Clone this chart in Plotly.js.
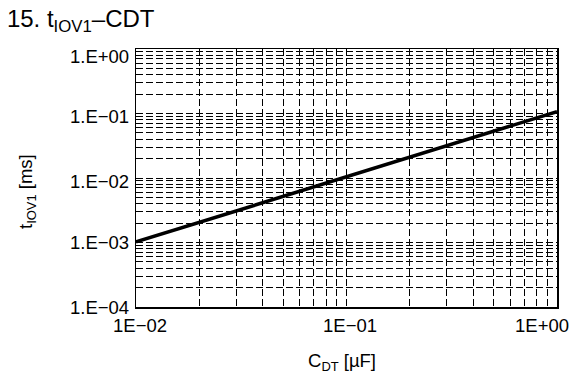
<!DOCTYPE html>
<html>
<head>
<meta charset="utf-8">
<script src="https://cdn.plot.ly/plotly-3.0.1.min.js"></script>
<style>html,body{margin:0;padding:0;background:#fff;}#chart{width:576px;height:379px;}</style>
</head>
<body>
<div id="chart"></div>
<script>
const cdt = [0.01, 0.1, 1];
const tiov1 = [0.00102, 0.0104, 0.107];
const xTickVals = [0.01, 0.1, 1];
const xTickText = ["1E\u221202", "1E\u221201", "1E+00"];
const yTickVals = [0.0001, 0.001, 0.01, 0.1, 1];
const yTickText = ["1.E\u221204", "1.E\u221203", "1.E\u221202", "1.E\u221201", "1.E+00"];

const FAM = "Liberation Sans, Arial, sans-serif";
const TICK = 18.5;
const grid = {showgrid: true, gridcolor: "#000", gridwidth: 1, griddash: "7px,3px"};

// label nudges (pixels) so the end labels stay inside the frame, as in the reference
const xShift = [4, 3, -15];
const yShift = [0, 0, -3, -3, -7];

const annotations = [];
xTickVals.forEach((v, i) => annotations.push({
  xref: "x", yref: "paper", x: Math.log10(v), y: 0, yanchor: "top", xanchor: "center",
  yshift: -6, xshift: xShift[i], showarrow: false, text: xTickText[i],
  font: {family: FAM, size: TICK, color: "#000"}
}));
yTickVals.forEach((v, i) => annotations.push({
  xref: "paper", yref: "y", x: 0, y: Math.log10(v), xanchor: "right", yanchor: "middle",
  xshift: -5, yshift: yShift[i], showarrow: false, text: yTickText[i],
  font: {family: FAM, size: TICK, color: "#000"}
}));
annotations.push({
  xref: "paper", yref: "paper", x: 0, y: 0.5, xanchor: "center", yanchor: "middle",
  xshift: -109, yshift: -14, textangle: -90, showarrow: false,
  text: "t<sub>IOV1</sub> [ms]", font: {family: FAM, size: 18.5, color: "#000"}
});
annotations.push({
  xref: "paper", yref: "paper", x: 0.5, y: 0, xanchor: "center", yanchor: "middle",
  xshift: -5, yshift: -55, showarrow: false,
  text: "C<sub>DT</sub> [\u00b5F]", font: {family: FAM, size: 18.5, color: "#000"}
});

const data = [{
  x: cdt, y: tiov1, type: "scatter", mode: "lines",
  line: {color: "#000", width: 3.5}, hoverinfo: "skip"
}];

const layout = {
  width: 576, height: 379,
  margin: {l: 136, r: 19, t: 49, b: 72},
  paper_bgcolor: "#fff", plot_bgcolor: "#fff",
  showlegend: false,
  font: {family: FAM, size: 18, color: "#000"},
  title: {text: "15. t<sub>IOV1</sub>\u2013CDT", xref: "container", yref: "container",
          x: 0.012, xanchor: "left", y: 0.972, yanchor: "top",
          font: {family: FAM, size: 24, color: "#000"}},
  annotations: annotations,
  xaxis: Object.assign({
    type: "log", range: [-2, 0], tickvals: xTickVals, showticklabels: false,
    ticks: "", showline: true, mirror: true, linecolor: "#000", linewidth: 1.5,
    zeroline: false,
    minor: Object.assign({dtick: "D1", ticks: ""}, grid)
  }, grid),
  yaxis: Object.assign({
    type: "log", range: [-4, 0], tickvals: yTickVals, showticklabels: false,
    ticks: "", showline: true, mirror: true, linecolor: "#000", linewidth: 1.5,
    zeroline: false,
    minor: Object.assign({dtick: "D1", ticks: ""}, grid)
  }, grid)
};

Plotly.newPlot("chart", data, layout, {displayModeBar: false, staticPlot: true});
</script>
</body>
</html>
